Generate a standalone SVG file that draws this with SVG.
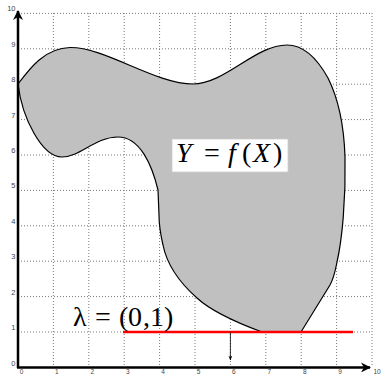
<svg xmlns="http://www.w3.org/2000/svg" width="381" height="374" viewBox="0 0 381 374">
<defs>
<style>
.grid{stroke:#777;stroke-width:1;stroke-dasharray:1 2;fill:none}
.tick{font-family:"Liberation Sans",Arial,sans-serif;font-size:7.5px;fill:#444}
.tickx{font-family:"Liberation Sans",Arial,sans-serif;font-size:6.5px;fill:#444}
.math{font-family:"Liberation Serif","Times New Roman",serif;font-size:28px;fill:#000}
.it{font-style:italic}
.axis{stroke:#000;stroke-width:2.5;fill:none}
</style>
<marker id="ah" viewBox="0 0 10 10" refX="9" refY="5" markerWidth="4" markerHeight="4" orient="auto" markerUnits="strokeWidth">
<path d="M0,0 L10,5 L0,10 L3,5 Z" fill="#000"/>
</marker>
<marker id="ahs" viewBox="0 0 10 10" refX="9" refY="5" markerWidth="6" markerHeight="6" orient="auto" markerUnits="strokeWidth">
<path d="M0,1 L10,5 L0,9 L3,5 Z" fill="#000"/>
</marker>
</defs>
<rect width="381" height="374" fill="#fff"/>
<g id="grid" class="grid">
<path d="M53.4,13V367M88.8,13V367M124.2,13V367M159.6,13V367M195,13V367M230.4,13V367M265.8,13V367M301.2,13V367M336.6,13V367M372,13V367"/>
<path d="M18,332H372M18,296.6H372M18,261.2H372M18,225.8H372M18,190.4H372M18,155H372M18,119.6H372M18,84.2H372M18,48.8H372M18,13.4H372"/>
</g>
<g id="region">
<path d="M18,84 C30,68 45,48 70,47.5 C105,47 155,84 193,84 C225,84 255,45 287,45 C305,45 318,60 328,78 C338,98 344,125 345,157 C346,200 342,240 337,262 C335,272 334,278 330,285 L301,332 L262,332 C235,322 210,310 197,298 C180,283 167,265 163,245 C160,232 159,222 159,215 L158,190 C152,165 140,137 118,137 C95,137 80,157 62,157 C42,157 22,118 18,84 Z" fill="#c0c0c0" stroke="#000" stroke-width="1.2"/>
</g>
<g id="connectors">
<line x1="123" y1="332" x2="353" y2="332" stroke="#ff0000" stroke-width="2.4"/>
<line x1="230.4" y1="332" x2="230.4" y2="360" stroke="#000" stroke-width="0.8" marker-end="url(#ahs)"/>
<line class="axis" x1="17" y1="367.4" x2="370" y2="367.4" marker-end="url(#ah)"/>
<line class="axis" x1="18" y1="368" x2="18" y2="11" marker-end="url(#ah)"/>
</g>
<g id="label-y">
<rect x="172" y="139" width="116" height="33" fill="#fff" stroke="#ccc" stroke-width="0.8"/>
<text class="math" y="162"><tspan class="it" x="176">Y</tspan><tspan x="204">=</tspan><tspan class="it" x="228">f</tspan><tspan x="242">(</tspan><tspan class="it" x="253">X</tspan><tspan x="273">)</tspan></text>
</g>
<g id="label-lambda">
<text class="math" y="326"><tspan x="73">λ</tspan><tspan x="95">=</tspan><tspan x="119">(</tspan><tspan x="128">0</tspan><tspan x="143">,</tspan><tspan x="150">1</tspan><tspan x="164">)</tspan></text>
</g>
<g id="ticks-y" class="tick" text-anchor="end">
<text x="15.5" y="365.5">0</text>
<text x="15.5" y="330">1</text>
<text x="15.5" y="294.6">2</text>
<text x="15.5" y="259.2">3</text>
<text x="15.5" y="223.8">4</text>
<text x="15.5" y="188.4">5</text>
<text x="15.5" y="153">6</text>
<text x="15.5" y="117.6">7</text>
<text x="15.5" y="82.2">8</text>
<text x="15.5" y="46.8">9</text>
<text x="15.5" y="11.4">10</text>
</g>
<g id="ticks-x" class="tickx" text-anchor="middle">
<text x="21.5" y="373.6">0</text>
<text x="56.9" y="373.6">1</text>
<text x="92.3" y="373.6">2</text>
<text x="127.7" y="373.6">3</text>
<text x="163.1" y="373.6">4</text>
<text x="198.5" y="373.6">5</text>
<text x="233.9" y="373.6">6</text>
<text x="269.3" y="373.6">7</text>
<text x="304.7" y="373.6">8</text>
<text x="340.1" y="373.6">9</text>
<text x="373.5" y="373.6" text-anchor="start">10</text>
</g>
</svg>
